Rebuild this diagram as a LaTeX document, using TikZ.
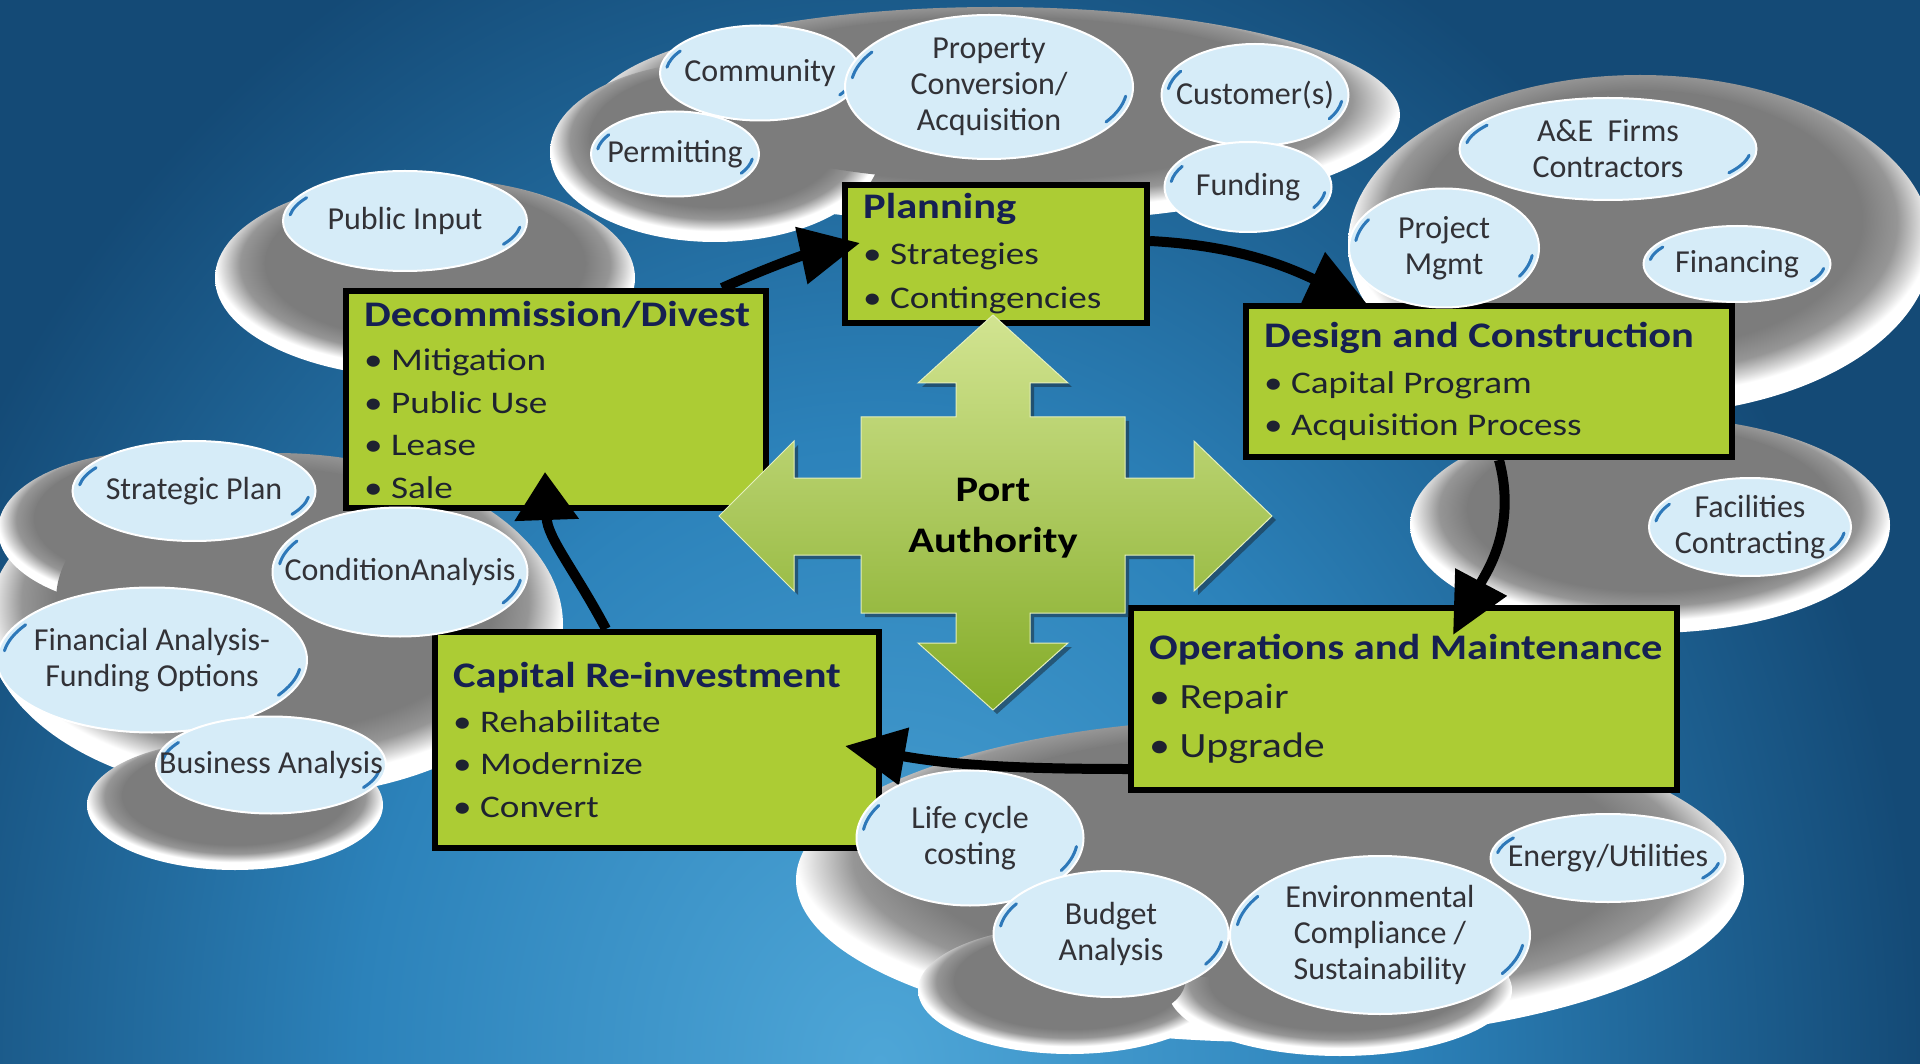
\documentclass[tikz,border=0pt]{standalone}
\usepackage{fontspec}
\setmainfont{Carlito}
\newfontfamily\boxfont{Carlito}[FakeStretch=1.18]
\usetikzlibrary{arrows.meta,calc}

\definecolor{bglight}{RGB}{78,166,215}
\definecolor{bgmid}{RGB}{44,130,186}
\definecolor{bgdark}{RGB}{20,74,118}
\definecolor{cg1}{RGB}{124,124,124}
\definecolor{cg2}{RGB}{150,150,150}
\definecolor{cg3}{RGB}{218,218,218}
\definecolor{boxgreen}{RGB}{172,204,52}
\definecolor{titleblue}{RGB}{22,32,82}
\definecolor{bullettxt}{RGB}{30,34,48}
\definecolor{bubblue}{RGB}{214,236,248}
\definecolor{bubtext}{RGB}{50,50,55}
\definecolor{streakblue}{RGB}{45,120,185}
\definecolor{crosslight}{RGB}{210,228,145}
\definecolor{crossmid}{RGB}{180,207,95}
\definecolor{crossdark}{RGB}{132,172,40}
\definecolor{crossshadow}{RGB}{25,45,60}

% radial shadings: 25bp = edge of the shaded path
\pgfdeclareradialshading{bgshade}{\pgfpoint{0bp}{0bp}}{color(0bp)=(bglight); color(6.5bp)=(bgmid); color(13bp)=(bgdark); color(50bp)=(bgdark)}
\pgfdeclareradialshading{cloudshade}{\pgfpoint{0bp}{6bp}}{color(0bp)=(cg1); color(19bp)=(cg1); color(22bp)=(cg2); color(24bp)=(cg3); color(25bp)=(white); color(50bp)=(white)}

\tikzset{
  gbox/.style={draw=black, line width=6pt, fill=boxgreen, inner sep=0pt},
  boxtxt/.style={anchor=west, align=left, inner sep=0pt, text=bullettxt, font=\boxfont\fontsize{31.5}{42.5}\selectfont},
  bubfill/.style={fill=bubblue, draw=white, line width=2pt},
  streak/.style={draw=streakblue, line width=3pt, line cap=round},
  bubtxt/.style={align=center, inner sep=0pt, text=bubtext, font=\fontsize{32}{36}\selectfont},
  flow/.style={draw=black, line width=10pt, -{Triangle[length=60pt,width=56pt]}},
}
\newcommand\btitle[1]{{\bfseries\fontsize{36}{43}\selectfont\color{titleblue}#1}}
\newcommand\bul{\textbullet\ }
\newcommand\bub[6]{%
  \pgfmathsetmacro\brx{#4/2}\pgfmathsetmacro\bry{#5/2}%
  \path[bubfill] (#2,-#3) ellipse [x radius=\brx, y radius=\bry];
  \pgfmathsetmacro\srx{#4/2-6}\pgfmathsetmacro\sry{#5/2-6}%
  \draw[streak] (#2,-#3) ++(148:\srx pt and \sry pt) arc[start angle=148, end angle=172, x radius=\srx pt, y radius=\sry pt];
  \draw[streak] (#2,-#3) ++(-8:\srx pt and \sry pt) arc[start angle=-8, end angle=-32, x radius=\srx pt, y radius=\sry pt];
  \node[bubtxt] (#1) at (#2,-#3) {#6};
}
% clouds: rim pass and core pass
\newcommand\cloudrim[4]{\shade[shading=cloudshade] (#1,-#2) ellipse [x radius=#3, y radius=#4];}
\newcommand\cloudcore[4]{\pgfmathsetmacro\ccy{#2-0.149*#4}\pgfmathsetmacro\crx{0.76*#3}\pgfmathsetmacro\cry{0.76*#4}%
  \fill[cg1] (#1,-\ccy) ellipse [x radius=\crx, y radius=\cry];}
\newcommand\cloudlist[1]{%
  #1{995}{115}{405}{108}
  #1{715}{152}{165}{90}
  #1{425}{278}{210}{100}
  #1{1640}{245}{292}{170}
  #1{1650}{525}{240}{108}
  #1{275}{625}{288}{172}
  #1{150}{530}{152}{78}
  #1{235}{805}{148}{65}
  #1{1270}{880}{474}{162}
  #1{1070}{990}{152}{64}
  #1{1340}{990}{172}{66}
}
\newcommand\crosspts{(993,-315) -- (1068,-383) -- (1030,-383) -- (1030,-417) -- (1125,-417) -- (1125,-478) -- (1194,-478) -- (1194,-441) -- (1272,-516) -- (1194,-591) -- (1194,-555) -- (1125,-555) -- (1125,-613) -- (1030,-613) -- (1030,-643) -- (1068,-643) -- (993,-710) -- (918,-643) -- (956,-643) -- (956,-613) -- (861,-613) -- (861,-555) -- (794,-555) -- (794,-591) -- (719,-516) -- (794,-441) -- (794,-478) -- (861,-478) -- (861,-417) -- (956,-417) -- (956,-383) -- (918,-383) -- cycle}

\begin{document}
\begin{tikzpicture}[x=1pt,y=1pt]
\useasboundingbox (0,0) rectangle (1920,-1064);
% background
\begin{scope}
\clip (0,0) rectangle (1920,-1064);
\shade[shading=bgshade] (880,-1064) ellipse [x radius=2000, y radius=2400];
\end{scope}

% gray clouds
\cloudlist\cloudrim
\cloudlist\cloudcore

% process boxes
\node[gbox, minimum width=302pt, minimum height=138pt] (plan) at (996,-254) {};
\node[boxtxt, font=\boxfont\fontsize{31.5}{44}\selectfont] (plan-t) at ([xshift=21pt]plan.west) {\btitle{Planning}\\[2pt] \bul Strategies\\ \bul Contingencies};

\node[gbox, minimum width=486pt, minimum height=151pt] (des) at (1489,-381.5) {};
\node[boxtxt] (des-t) at ([xshift=21pt]des.west) {\btitle{Design and Construction}\\[3pt] \bul Capital Program\\ \bul Acquisition Process};

\node[gbox, minimum width=546pt, minimum height=182pt] (ops) at (1404,-699) {};
\node[boxtxt, font=\boxfont\fontsize{35.5}{49}\selectfont] (ops-t) at ([xshift=21pt]ops.west) {\btitle{Operations and Maintenance}\\ \bul Repair\\ \bul Upgrade};

\node[gbox, minimum width=444pt, minimum height=216pt] (cap) at (657,-740) {};
\node[boxtxt] (cap-t) at ([xshift=21pt]cap.west) {\btitle{Capital Re-investment}\\[2pt] \bul Rehabilitate\\ \bul Modernize\\ \bul Convert};

\node[gbox, minimum width=420pt, minimum height=217pt] (dec) at (556,-399.5) {};
\node[boxtxt] (dec-t) at ([xshift=21pt]dec.west) {\btitle{Decommission/Divest}\\[2pt] \bul Mitigation\\ \bul Public Use\\ \bul Lease\\ \bul Sale};

% central cross
\fill[crossshadow, opacity=0.55, shift={(4,-4)}] \crosspts;
\shade[top color=crosslight, middle color=crossmid, bottom color=crossdark, draw=crosslight!60!white, line width=1pt] \crosspts;
\node[font=\boxfont\bfseries\fontsize{36}{51}\selectfont, align=center, inner sep=0pt, text=black] (pa) at (993,-518) {Port\\Authority};

% cycle arrows
\draw[flow] ([xshift=-47pt]dec.north east) to[bend left=6] ([xshift=18pt,yshift=11pt]plan.west);
\draw[flow] ([yshift=13pt]plan.east) to[out=-3, in=155] ([xshift=124pt,yshift=-1pt]des.north west);
\draw[flow] ([xshift=10pt]des.south) to[out=-75, in=62] ([xshift=49pt,yshift=-30pt]ops.north);
\draw[flow] ([yshift=-70pt]ops.west) to[out=180, in=-10] ([xshift=-37pt,yshift=-6pt]cap.east);
\draw[draw=black, line width=10pt, -{Triangle[length=48pt,width=62pt]}] ([xshift=-51pt]cap.north) to[out=118, in=-88] ([xshift=-11pt,yshift=39pt]dec.south);

% bubbles
\bub{b-comm}{760}{73}{200}{95}{Community}
\bub{b-prop}{989}{87}{288}{144}{Property\\Conversion/\\Acquisition}
\bub{b-cust}{1255}{95}{187}{102}{Customer(s)}
\bub{b-perm}{675}{154}{168}{85}{Permitting}
\bub{b-fund}{1248}{187}{167}{90}{Funding}
\bub{b-pub}{405}{221}{244}{100}{Public Input}
\bub{b-ae}{1608}{149}{297}{102}{A\&E\ \ Firms\\Contractors}
\bub{b-pm}{1444}{248}{190}{119}{Project\\Mgmt}
\bub{b-fin}{1737}{264}{187}{76}{Financing}
\bub{b-fac}{1750}{527}{202}{98}{Facilities\\Contracting}
\bub{b-strat}{194}{491}{243}{100}{Strategic Plan}
\bub{b-cond}{400}{572}{255}{129}{ConditionAnalysis}
\bub{b-finan}{152}{660}{310}{145}{Financial Analysis-\\Funding Options}
\bub{b-bus}{271}{765}{230}{97}{Business Analysis}
\bub{b-life}{970}{838}{227}{135}{Life cycle\\costing}
\bub{b-budg}{1111}{934}{235}{126}{Budget\\Analysis}
\bub{b-env}{1380}{935}{300}{158}{Environmental\\Compliance /\\Sustainability}
\bub{b-energy}{1608}{858}{235}{88}{Energy/Utilities}
\end{tikzpicture}
\end{document}
